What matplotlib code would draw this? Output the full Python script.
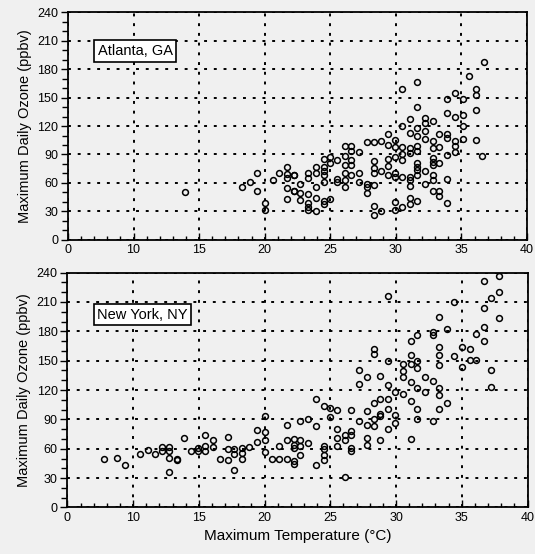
import matplotlib
matplotlib.use("Agg")
import matplotlib.pyplot as plt
from matplotlib.ticker import MultipleLocator, FixedLocator

plt.rcParams['font.family'] = ['Liberation Sans', 'DejaVu Sans']

# Atlanta, GA (max temperature degC, max daily ozone ppbv)
atl_t = [13.9, 18.3, 18.9, 19.4, 19.4, 20.0, 20.0, 20.6, 21.1, 21.7, 21.7, 21.7, 22.2, 21.7, 22.2, 21.7,
         22.7, 22.7, 22.7, 22.2, 22.2,
         23.3, 23.3, 23.3, 23.3, 23.3, 23.3, 23.9, 23.9, 23.9, 23.9, 23.9,
         24.5, 24.5, 24.5, 24.5, 24.5, 24.5, 24.5, 25.0, 25.0, 25.0, 25.5, 25.5, 25.5,
         26.1, 26.1, 26.1, 26.1, 26.1, 26.1, 26.6, 26.6, 26.6, 26.6, 26.6,
         27.2, 27.2, 27.2, 27.8, 27.8, 27.8, 27.8,
         28.3, 28.3, 28.3, 28.3, 28.3, 28.3, 28.3, 28.9, 28.9, 28.9,
         29.4, 29.4, 29.4, 29.4, 29.4, 29.9, 29.9, 29.9, 29.9, 29.9, 29.9, 29.9,
         30.5, 30.5, 30.5, 30.5, 30.5, 30.5, 30.5,
         31.1, 31.1, 31.1, 31.1, 31.1, 31.1, 31.1, 31.1, 31.1,
         31.6, 31.6, 31.6, 31.6, 31.6, 31.6, 31.6, 31.6, 31.6, 31.6, 31.6,
         32.2, 32.2, 32.2, 32.2, 32.2, 32.2,
         32.8, 32.8, 32.8, 32.8, 32.8, 32.8, 32.8, 32.8, 32.8,
         33.3, 33.3, 33.3, 33.3, 33.3,
         33.9, 33.9, 33.9, 33.9, 33.9, 33.9, 33.9,
         34.5, 34.5, 34.5, 34.5, 34.5, 35.1, 35.1, 35.1, 35.1,
         35.6, 36.1, 36.1, 36.1, 36.1, 36.6, 36.7]
atl_o3 = [50, 56, 61, 71, 52, 39, 32, 63, 71, 77, 69, 65, 68, 55, 51, 43,
          59, 49, 42, 68, 51,
          71, 65, 48, 39, 35, 32, 77, 70, 56, 44, 30,
          85, 77, 73, 68, 61, 41, 38, 81, 87, 43, 84, 64, 61,
          99, 88, 79, 70, 63, 56, 99, 94, 84, 79, 68,
          93, 70, 61, 103, 59, 56, 49,
          103, 83, 76, 70, 58, 36, 26, 104, 73, 30,
          112, 100, 85, 78, 68, 105, 98, 87, 71, 66, 40, 32,
          159, 120, 98, 91, 84, 66, 35,
          127, 113, 97, 92, 66, 63, 57, 44, 38,
          166, 140, 118, 109, 99, 94, 81, 77, 74, 68, 41,
          128, 123, 115, 106, 73, 59,
          125, 104, 97, 86, 82, 79, 68, 63, 52,
          112, 98, 81, 52, 46,
          149, 134, 112, 107, 89, 64, 39,
          155, 129, 104, 99, 93, 148, 132, 120, 106,
          173, 159, 153, 137, 105, 88, 187]

# New York, NY
ny_t = [7.8, 8.8, 9.4, 10.5, 11.1, 11.7, 12.2, 12.2, 12.7, 12.7, 12.7, 12.7, 13.3, 13.3,
        13.9, 14.4, 14.9, 14.9, 15.5, 15.5, 15.5, 16.1, 16.1, 16.6, 17.2, 17.2, 17.2,
        17.7, 17.7, 17.7, 18.3, 18.3, 18.3, 18.8, 19.4, 19.4, 20.0, 20.0, 20.0, 20.0,
        20.6, 21.1, 21.1, 21.7, 21.7, 21.7, 22.2, 22.2, 22.2, 22.2, 22.2,
        22.7, 22.7, 22.7, 22.7, 23.3, 23.3, 23.9, 23.9, 23.9,
        24.5, 24.5, 24.5, 24.5, 24.5, 25.0, 25.0, 25.5, 25.5, 25.5, 25.5,
        26.1, 26.1, 26.1, 26.6, 26.6, 26.6, 26.6, 26.6, 27.2, 27.2, 27.2,
        27.8, 27.8, 27.8, 27.8, 27.8, 28.3, 28.3, 28.3, 28.3, 28.3,
        28.8, 28.8, 28.8, 28.8, 28.8, 29.4, 29.4, 29.4, 29.4, 29.4, 29.4,
        29.9, 29.9, 29.9, 30.5, 30.5, 30.5, 30.5,
        31.1, 31.1, 31.1, 31.1, 31.1, 31.1, 31.6, 31.6, 31.6, 31.6, 31.6, 31.6,
        32.2, 32.2, 32.8, 32.8, 32.8, 32.8,
        33.3, 33.3, 33.3, 33.3, 33.3, 33.3, 33.3, 33.9, 33.9, 34.4, 34.4,
        35.0, 35.0, 35.6, 35.6, 36.1, 36.1, 36.7, 36.7, 36.7, 36.7,
        37.2, 37.2, 37.2, 37.8, 37.8, 37.8]
ny_o3 = [50, 51, 43, 55, 59, 55, 62, 58, 62, 58, 51, 36, 50, 49,
         71, 58, 61, 58, 74, 63, 58, 69, 62, 50, 72, 60, 48,
         60, 55, 38, 61, 56, 50, 62, 79, 67, 93, 77, 69, 57,
         50, 63, 50, 84, 69, 50, 70, 64, 61, 47, 44,
         88, 69, 54, 63, 90, 66, 111, 83, 43,
         104, 63, 60, 54, 48, 102, 92, 100, 80, 71, 63,
         74, 69, 31, 100, 78, 74, 61, 58, 140, 126, 88,
         133, 99, 84, 71, 64, 162, 157, 107, 90, 83,
         134, 111, 95, 93, 69, 216, 150, 125, 111, 101, 80,
         118, 94, 86, 147, 139, 133, 116,
         170, 156, 147, 128, 109, 70, 176, 150, 143, 122, 101, 90,
         133, 118, 179, 176, 129, 88,
         195, 164, 156, 146, 122, 115, 101, 182, 107, 210, 155,
         164, 144, 162, 151, 177, 151, 231, 204, 184, 170,
         214, 140, 123, 236, 220, 194]

bg = '#f0f0f0'
fig = plt.figure(figsize=(5.35, 5.54), dpi=100, facecolor=bg)
ax1 = fig.add_axes([0.127, 0.567, 0.858, 0.411])
ax2 = fig.add_axes([0.126, 0.084, 0.860, 0.424])

panels = [(ax1, atl_t, atl_o3, "Atlanta, GA", 0.83),
          (ax2, ny_t, ny_o3, "New York, NY", 0.82)]

for ax, t, o3, name, ty in panels:
    ax.set_facecolor(bg)
    ax.plot(t, o3, 'o', ms=4.2, mfc='none', mec='black', mew=1.1)
    ax.set_xlim(5, 40)
    ax.set_ylim(0, 240)
    ax.xaxis.set_major_locator(FixedLocator([5, 10, 15, 20, 25, 30, 35, 40]))
    ax.set_xticklabels(["0", "10", "15", "20", "25", "30", "35", "40"])
    ax.xaxis.set_minor_locator(MultipleLocator(1))
    ax.yaxis.set_major_locator(MultipleLocator(30))
    ax.yaxis.set_minor_locator(MultipleLocator(10))
    ax.tick_params(axis='x', which='both', direction='in', labelsize=9, pad=3)
    ax.tick_params(axis='x', which='major', length=5, width=1)
    ax.tick_params(axis='x', which='minor', length=3, width=1)
    ax.tick_params(axis='y', which='both', direction='out', labelsize=9, pad=2)
    ax.tick_params(axis='y', which='major', length=5, width=1)
    ax.tick_params(axis='y', which='minor', length=4, width=1)
    ax.grid(True, which='major', color='black', linestyle=(0, (1.5, 3.5)), linewidth=1.4)
    ax.set_axisbelow(True)
    for s in ax.spines.values():
        s.set_linewidth(1.3)
    ax.set_ylabel("Maximum Daily Ozone (ppbv)", fontsize=10.5, labelpad=4)
    ax.text(0.065, ty, name, transform=ax.transAxes, fontsize=10.5, va='center', ha='left',
            bbox=dict(boxstyle='square,pad=0.25', fc='white', ec='black', lw=1.2))

ax2.set_xlabel("Maximum Temperature (°C)", fontsize=11, labelpad=4)

fig.savefig("out.png", dpi=100, facecolor=bg)
